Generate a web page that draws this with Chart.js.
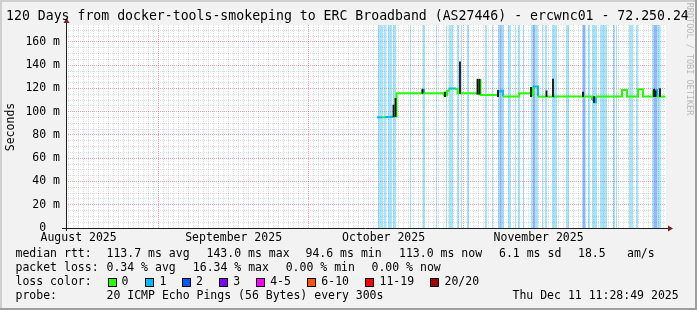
<!DOCTYPE html>
<html>
<head>
<meta charset="utf-8">
<script src="https://cdn.jsdelivr.net/npm/chart.js@4.4.1/dist/chart.umd.min.js"></script>
<style>
  html, body { margin: 0; padding: 0; background: #f2f2f2; }
</style>
</head>
<body>
<canvas id="smokeChart" width="697" height="310"></canvas>
<script>
// x values are days since the window start (Wed Aug 13 11:28:49 2025), 120 days shown
const yMax = 174.6;
const yTickValues = [0, 20, 40, 60, 80, 100, 120, 140, 160];
const yTickLabels = ['0  ', '20 m', '40 m', '60 m', '80 m', '100 m', '120 m', '140 m', '160 m'];
const monthLabels = ['August 2025', 'September 2025', 'October 2025', 'November 2025'];
const monthLabelDays = [2.52, 33.52, 63.52, 94.52];
const monthStartDays = [18.52, 48.52, 79.52, 109.52];

// median rtt (ms) and packets lost out of 20
const medianDays = [62.2, 63.2, 63.8, 65.0, 65.6, 66.1, 71.2, 71.6, 75.6, 76.2, 76.6, 77.8, 78.3,
  82.4, 82.9, 86.4, 87.0, 87.4, 90.6, 93.0, 93.4, 94.4, 97.2, 97.8, 105.2, 105.6, 106.0,
  111.2, 112.2, 114.4, 115.4, 117.4, 118.2, 119.9];
const medianMs = [95.2, 95.2, 95.4, 95.6, 95.8, 115.8, 118.8, 115.8, 114.0, 118.0, 120.0, 119.5, 115.8,
  127.0, 114.4, 117.5, 118.0, 113.0, 115.8, 114.0, 121.6, 113.0, 113.0, 113.0, 110.0, 108.2, 113.0,
  118.7, 113.0, 119.3, 113.0, 118.7, 113.0, 113.0];
const medianLoss = [1, 0, 1, 1, 0, 0, 1, 0, 0, 0, 1, 0, 0,
  0, 0, 1, 1, 0, 0, 0, 1, 0, 1, 0, 1, 1, 0,
  0, 0, 0, 0, 1, 0, 0];

// smoke: spread of the 20 pings
const smokeDays = [65.5, 65.9, 71.3, 75.8, 78.8, 82.3, 82.7, 86.4, 93.0, 96.1, 97.4, 103.4, 105.6, 117.6, 117.9, 118.8];
const smokeLow = [95.8, 95.8, 115.8, 113, 115.8, 115, 115, 113, 113, 113, 113, 113, 108, 113, 113, 113];
const smokeHigh = [105.8, 111.5, 119.5, 117, 143.0, 128, 128, 118.5, 121, 118, 128, 117, 113, 119.5, 118, 120];

// periods with loss 1/20 (light blue) and 3/20 (violet)
const loss1Start = [62.4, 63.6, 64.4, 65.4, 66.4, 68.8, 71.3, 74.0, 76.0, 76.6, 78.2, 79.0, 80.2, 82.4, 83.8, 85.2,
  86.4, 88.4, 89.8, 90.4, 91.4, 93.0, 95.2, 95.8, 97.2, 100.0, 103.2, 104.4, 105.2, 106.8, 109.4, 110.0,
  112.6, 114.0, 117.2, 118.9];
const loss1End = [63.4, 64.1, 65.2, 66.0, 66.6, 69.0, 71.8, 74.2, 76.2, 77.4, 78.6, 79.2, 80.6, 82.6, 84.2, 85.4,
  87.6, 89.0, 90.0, 90.8, 91.6, 94.4, 95.4, 96.2, 98.2, 100.6, 104.0, 104.8, 106.2, 108.2, 109.8, 110.2,
  113.4, 114.4, 118.8, 119.1];
const loss3Start = [86.7, 93.4, 103.4, 117.6];
const loss3End = [87.1, 93.8, 103.8, 118.2];

const lossLegendLabels = ['0', '1', '2', '3', '4-5', '6-10', '11-19', '20/20'];
const lossLegendColors = ['#26ff00', '#00b8ff', '#0059ff', '#7e00ff', '#ff00ff', '#ff5500', '#ff0000', '#a10000'];

const statRttLine = [['median rtt:', 16], ['113.7 ms avg', 107], ['143.0 ms max', 207], ['94.6 ms min', 306],
  ['113.0 ms now', 399.5], ['6.1 ms sd', 499.5], ['18.5', 578.5], ['am/s', 627.5]];
const statLossLine = [['packet loss:', 16], ['0.34 % avg', 107], ['16.34 % max', 193.3], ['0.00 % min', 286.2],
  ['0.00 % now', 372]];
const probeText = '20 ICMP Echo Pings (56 Bytes) every 300s';
const dateText = 'Thu Dec 11 11:28:49 2025';
const titleText = '120 Days from docker-tools-smokeping to ERC Broadband (AS27446) - ercwnc01 - 72.250.24';

const FONT = '"DejaVu Sans Mono", monospace';
const minorGrid = 'rgba(143,143,143,0.3)';
const majorGrid = 'rgba(222,79,79,0.5)';

function lossColor(n) {
  if (n <= 0) return lossLegendColors[0];
  if (n === 1) return lossLegendColors[1];
  if (n === 2) return lossLegendColors[2];
  if (n === 3) return lossLegendColors[3];
  if (n <= 5) return lossLegendColors[4];
  if (n <= 10) return lossLegendColors[5];
  if (n <= 19) return lossLegendColors[6];
  return lossLegendColors[7];
}

function bandPoints(starts, ends) {
  const pts = [];
  starts.forEach((s, i) => {
    pts.push({x: s, y: 0}, {x: s, y: yMax}, {x: ends[i], y: yMax}, {x: ends[i], y: 0});
  });
  return pts;
}

const smokeDecor = {
  id: 'smokeDecor',
  beforeDraw(chart) {
    const {ctx, chartArea: a} = chart;
    ctx.save();
    ctx.fillStyle = '#f2f2f2';
    ctx.fillRect(0, 0, chart.width, chart.height);
    ctx.fillStyle = '#ffffff';
    ctx.fillRect(a.left, a.top, a.right - a.left, a.bottom - a.top);
    ctx.restore();
  },
  afterDraw(chart) {
    const {ctx, chartArea: a} = chart;
    const W = chart.width, H = chart.height;
    ctx.save();

    // frame
    ctx.fillStyle = '#cfcfcf';
    ctx.fillRect(0, 0, W, 2);
    ctx.fillRect(0, 0, 2, H);
    ctx.fillStyle = '#9e9e9e';
    ctx.fillRect(0, H - 2, W, 2);
    ctx.fillRect(W - 2, 0, 2, H);

    // axes with arrows
    const x0 = a.left + 0.5, y0 = a.bottom + 0.5;
    ctx.strokeStyle = '#1f1f1f';
    ctx.lineWidth = 1;
    ctx.beginPath();
    ctx.moveTo(a.left - 4, y0); ctx.lineTo(a.right + 3, y0);
    ctx.moveTo(x0, a.bottom + 3); ctx.lineTo(x0, a.top - 4);
    ctx.stroke();
    ctx.fillStyle = '#801f1f';
    ctx.beginPath();
    ctx.moveTo(a.right + 7, y0); ctx.lineTo(a.right + 2, y0 - 3); ctx.lineTo(a.right + 2, y0 + 3);
    ctx.closePath(); ctx.fill();
    ctx.beginPath();
    ctx.moveTo(x0, a.top - 7); ctx.lineTo(x0 - 3, a.top - 2); ctx.lineTo(x0 + 3, a.top - 2);
    ctx.closePath(); ctx.fill();

    // title
    ctx.fillStyle = '#000';
    ctx.textBaseline = 'middle';
    ctx.textAlign = 'left';
    ctx.font = '13.2px ' + FONT;
    ctx.fillText(titleText, 6, 17);

    // watermark
    ctx.save();
    ctx.translate(689, 59);
    ctx.rotate(Math.PI / 2);
    ctx.font = '8.5px ' + FONT;
    ctx.fillStyle = '#b8b8b8';
    ctx.textAlign = 'center';
    ctx.fillText('RRDTOOL / TOBI OETIKER', 0, 0);
    ctx.restore();

    // y axis title
    ctx.save();
    ctx.translate(11, 127);
    ctx.rotate(-Math.PI / 2);
    ctx.font = '11.5px ' + FONT;
    ctx.textAlign = 'center';
    ctx.fillText('Seconds', 0, 0);
    ctx.restore();

    // legend block
    ctx.font = '11.5px ' + FONT;
    ctx.textAlign = 'left';
    statRttLine.forEach(([t, x]) => ctx.fillText(t, x - 0.5, 254));
    statLossLine.forEach(([t, x]) => ctx.fillText(t, x - 0.5, 268));
    ctx.fillText('loss color:', 15.5, 282);
    const boxX = [108, 145, 182, 219, 256, 307, 365, 430];
    const labX = [122, 160, 196.4, 233.8, 270.7, 321.8, 380, 445];
    lossLegendLabels.forEach((lab, i) => {
      ctx.fillStyle = lossLegendColors[i];
      ctx.fillRect(boxX[i], 278, 8, 8);
      ctx.strokeStyle = '#000';
      ctx.strokeRect(boxX[i] + 0.5, 278.5, 8, 8);
      ctx.fillStyle = '#000';
      ctx.fillText(lab, labX[i] - 0.5, 282);
    });
    ctx.fillText('probe:', 15.5, 296);
    ctx.fillText(probeText, 106.5, 296);
    ctx.fillText(dateText, 512.5, 296);
    ctx.restore();
  }
};

const ctx = document.getElementById('smokeChart').getContext('2d');
const chart = new Chart(ctx, {
  type: 'line',
  data: {
    datasets: [
      {
        label: 'loss 1',
        data: bandPoints(loss1Start, loss1End),
        backgroundColor: 'rgba(0,176,245,0.34)',
        borderColor: 'rgba(0,0,0,0)',
        borderWidth: 0,
        pointRadius: 0,
        fill: 'origin',
        order: 4
      },
      {
        label: 'loss 3',
        data: bandPoints(loss3Start, loss3End),
        backgroundColor: 'rgba(126,0,255,0.22)',
        borderColor: 'rgba(0,0,0,0)',
        borderWidth: 0,
        pointRadius: 0,
        fill: 'origin',
        order: 3
      },
      {
        label: 'median rtt',
        data: medianDays.map((d, i) => ({x: d, y: medianMs[i]})),
        borderWidth: 2,
        borderColor: lossColor(0),
        pointRadius: 0,
        stepped: true,
        fill: false,
        segment: {
          borderColor: c => lossColor(medianLoss[c.p0DataIndex])
        },
        order: 2
      },
      {
        type: 'bar',
        label: 'smoke',
        data: smokeDays.map((d, i) => ({x: d, y: [smokeLow[i], smokeHigh[i]]})),
        backgroundColor: 'rgba(0,0,0,0.9)',
        borderWidth: 0,
        barThickness: 1.2,
        grouped: false,
        order: 1
      }
    ]
  },
  options: {
    responsive: false,
    devicePixelRatio: 1,
    animation: false,
    events: [],
    layout: { padding: { top: 25, right: 31, bottom: 0, left: 0 } },
    plugins: {
      legend: { display: false },
      tooltip: { enabled: false },
      title: { display: false }
    },
    scales: {
      x: {
        type: 'linear',
        position: 'bottom',
        min: 0,
        max: 120,
        offset: false,
        afterBuildTicks: s => {
          const t = [];
          for (let d = 0.52; d < 120; d += 1) t.push({value: Math.round(d * 100) / 100});
          s.ticks = t;
        },
        afterFit: s => { s.height = 0; },
        ticks: { display: false },
        border: { display: false, dash: [1, 1] },
        grid: {
          offset: false,
          drawTicks: false,
          lineWidth: 1,
          color: c => monthStartDays.includes(c.tick.value) ? majorGrid : minorGrid
        }
      },
      xl: {
        type: 'linear',
        position: 'bottom',
        min: 0,
        max: 120,
        offset: false,
        afterBuildTicks: s => { s.ticks = monthLabelDays.map(v => ({value: v})); },
        afterFit: s => { s.height = 82; },
        border: { display: false },
        grid: { display: false, drawTicks: false },
        ticks: {
          autoSkip: false,
          maxRotation: 0,
          padding: 3,
          color: '#000',
          font: { family: FONT, size: 11.5 },
          callback: (v, i) => monthLabels[i]
        }
      },
      y: {
        type: 'linear',
        position: 'left',
        min: 0,
        max: yMax,
        afterBuildTicks: s => {
          const t = [];
          for (let v = 0; v <= 170; v += 5) t.push({value: v});
          s.ticks = t;
        },
        afterFit: s => { s.width = 66; },
        border: { display: false, dash: [1, 1] },
        grid: {
          drawTicks: false,
          lineWidth: 1,
          color: c => c.tick.value === 0 ? 'rgba(0,0,0,0)' : (c.tick.value % 20 === 0 ? majorGrid : minorGrid)
        },
        ticks: {
          autoSkip: false,
          padding: 6,
          color: '#000',
          font: { family: FONT, size: 11.5 },
          callback: v => {
            const i = yTickValues.indexOf(v);
            return i >= 0 ? yTickLabels[i] : '';
          }
        }
      }
    }
  },
  plugins: [smokeDecor]
});
</script>
</body>
</html>
